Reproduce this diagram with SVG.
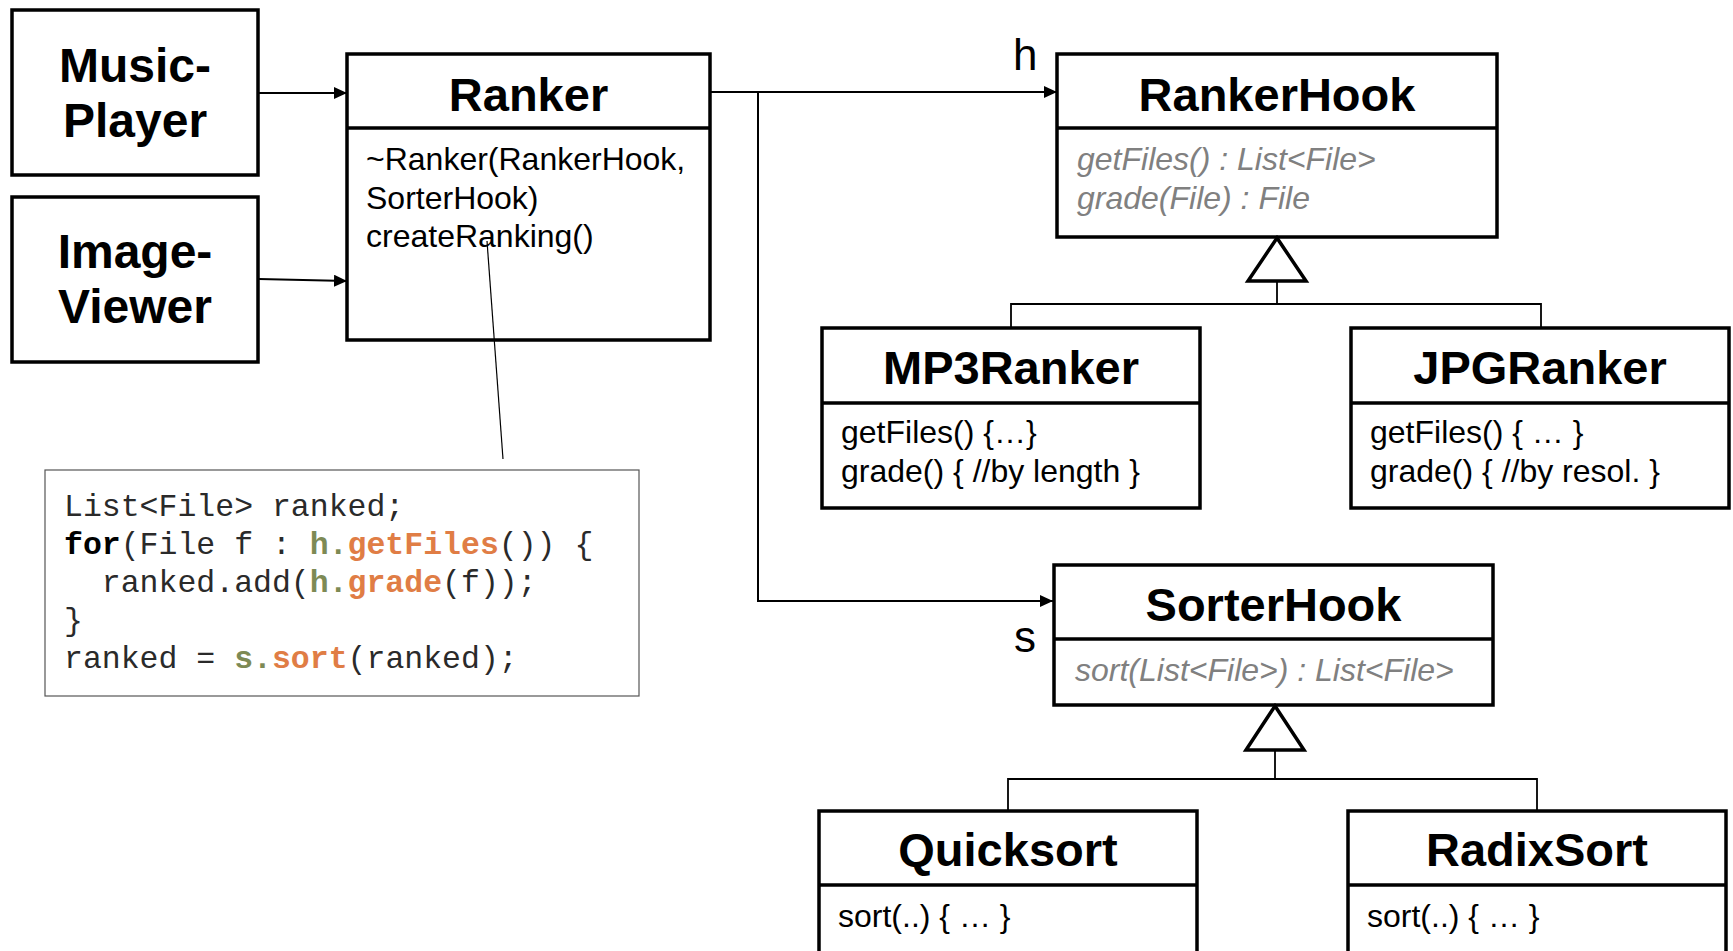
<svg xmlns="http://www.w3.org/2000/svg" width="1733" height="951" viewBox="0 0 1733 951">
  <style>
    .box { fill: #ffffff; stroke: #000000; stroke-width: 3.5; }
    .div { stroke: #000000; stroke-width: 3.5; }
    .actor { font-family: "Liberation Sans", Arial, sans-serif; font-weight: bold; font-size: 48px; fill: #000; text-anchor: middle; }
    .title { font-family: "Liberation Sans", Arial, sans-serif; font-weight: bold; font-size: 47px; fill: #000; text-anchor: middle; }
    .member { font-family: "Liberation Sans", Arial, sans-serif; font-size: 32px; fill: #000; }
    .abstract { font-family: "Liberation Sans", Arial, sans-serif; font-size: 32px; font-style: italic; fill: #808080; }
    .role { font-family: "Liberation Sans", Arial, sans-serif; font-size: 44px; fill: #000; }
    .assoc { fill: none; stroke: #000; stroke-width: 2; }
    .gen { fill: none; stroke: #000; stroke-width: 1.8; }
    .tri { fill: #fff; stroke: #000; stroke-width: 3.5; stroke-linejoin: miter; }
    .note { fill: #fff; stroke: #555; stroke-width: 1.2; }
    .code { font-family: "Liberation Mono", "Courier New", monospace; font-size: 31.5px; fill: #2a2a2a; white-space: pre; }
    .kw { font-weight: bold; fill: #000; }
    .obj { font-weight: bold; fill: #7d8a55; }
    .call { font-weight: bold; fill: #e07d45; }
  </style>
  <defs>
    <marker id="arrow" viewBox="0 0 13 12" refX="13" refY="6" markerWidth="13" markerHeight="12" markerUnits="userSpaceOnUse" orient="auto">
      <path d="M0,0 L13,6 L0,12 Z" fill="#000"/>
    </marker>
  </defs>

  <g id="music-player">
    <rect class="box" x="12" y="10" width="246" height="165"/>
    <text class="actor" x="135" y="82">Music-</text>
    <text class="actor" x="135" y="137">Player</text>
  </g>

  <g id="image-viewer">
    <rect class="box" x="12" y="197" width="246" height="165"/>
    <text class="actor" x="135" y="268">Image-</text>
    <text class="actor" x="135" y="323">Viewer</text>
  </g>

  <g id="ranker">
    <rect class="box" x="347" y="54" width="363" height="286"/>
    <line class="div" x1="347" y1="128" x2="710" y2="128"/>
    <text class="title" x="528.5" y="111">Ranker</text>
    <text class="member" x="366" y="170">~Ranker(RankerHook,</text>
    <text class="member" x="366" y="208.5">SorterHook)</text>
    <text class="member" x="366" y="247">createRanking()</text>
  </g>

  <g id="ranker-hook">
    <rect class="box" x="1057" y="54" width="440" height="183"/>
    <line class="div" x1="1057" y1="128" x2="1497" y2="128"/>
    <text class="title" x="1277" y="111">RankerHook</text>
    <text class="abstract" x="1077" y="170">getFiles() : List&lt;File&gt;</text>
    <text class="abstract" x="1077" y="208.5">grade(File) : File</text>
  </g>

  <g id="mp3-ranker">
    <rect class="box" x="822" y="328" width="378" height="180"/>
    <line class="div" x1="822" y1="403" x2="1200" y2="403"/>
    <text class="title" x="1011" y="384">MP3Ranker</text>
    <text class="member" x="841" y="443">getFiles() {…}</text>
    <text class="member" x="841" y="482">grade() { //by length }</text>
  </g>

  <g id="jpg-ranker">
    <rect class="box" x="1351" y="328" width="378" height="180"/>
    <line class="div" x1="1351" y1="403" x2="1729" y2="403"/>
    <text class="title" x="1540" y="384">JPGRanker</text>
    <text class="member" x="1370" y="443">getFiles() { … }</text>
    <text class="member" x="1370" y="482">grade() { //by resol. }</text>
  </g>

  <g id="sorter-hook">
    <rect class="box" x="1054" y="565" width="439" height="140"/>
    <line class="div" x1="1054" y1="639" x2="1493" y2="639"/>
    <text class="title" x="1273.5" y="621">SorterHook</text>
    <text class="abstract" x="1075" y="681">sort(List&lt;File&gt;) : List&lt;File&gt;</text>
  </g>

  <g id="quicksort">
    <rect class="box" x="819" y="811" width="378" height="160"/>
    <line class="div" x1="819" y1="885" x2="1197" y2="885"/>
    <text class="title" x="1008" y="866">Quicksort</text>
    <text class="member" x="838" y="927">sort(..) { … }</text>
  </g>

  <g id="radix-sort">
    <rect class="box" x="1348" y="811" width="378" height="160"/>
    <line class="div" x1="1348" y1="885" x2="1726" y2="885"/>
    <text class="title" x="1537" y="866">RadixSort</text>
    <text class="member" x="1367" y="927">sort(..) { … }</text>
  </g>

  <g id="code-note">
    <rect class="note" x="45" y="470" width="594" height="226"/>
    <text class="code" x="64" y="516">List&lt;File&gt; ranked;</text>
    <text class="code" x="64" y="554"><tspan class="kw">for</tspan>(File f : <tspan class="obj">h.</tspan><tspan class="call">getFiles</tspan>()) {</text>
    <text class="code" x="64" y="592">  ranked.add(<tspan class="obj">h.</tspan><tspan class="call">grade</tspan>(f));</text>
    <text class="code" x="64" y="630">}</text>
    <text class="code" x="64" y="668">ranked = <tspan class="obj">s.</tspan><tspan class="call">sort</tspan>(ranked);</text>
  </g>

  <!-- associations, generalizations and the note anchor, drawn over the boxes -->
  <g id="connectors">
    <line class="assoc" x1="259" y1="93" x2="347" y2="93" marker-end="url(#arrow)"/>
    <line class="assoc" x1="259" y1="279" x2="347" y2="281" marker-end="url(#arrow)"/>
    <line class="assoc" x1="710" y1="92" x2="1057" y2="92" marker-end="url(#arrow)"/>
    <polyline class="assoc" points="758,92 758,601 1053,601" marker-end="url(#arrow)"/>
    <text class="role" x="1013" y="70">h</text>
    <text class="role" x="1014" y="652">s</text>

    <!-- RankerHook hierarchy -->
    <polyline class="gen" points="1011,328 1011,304 1541,304 1541,328"/>
    <line class="gen" x1="1277" y1="281" x2="1277" y2="304"/>
    <polygon class="tri" points="1277,238 1248,281 1306,281"/>

    <!-- SorterHook hierarchy -->
    <polyline class="gen" points="1008,811 1008,779 1537,779 1537,811"/>
    <line class="gen" x1="1275" y1="750" x2="1275" y2="779"/>
    <polygon class="tri" points="1275,706 1246,750 1304,750"/>

    <!-- note anchor, starting on createRanking() -->
    <line x1="487" y1="241" x2="503" y2="459" stroke="#000" stroke-width="1.2"/>
  </g>
</svg>
